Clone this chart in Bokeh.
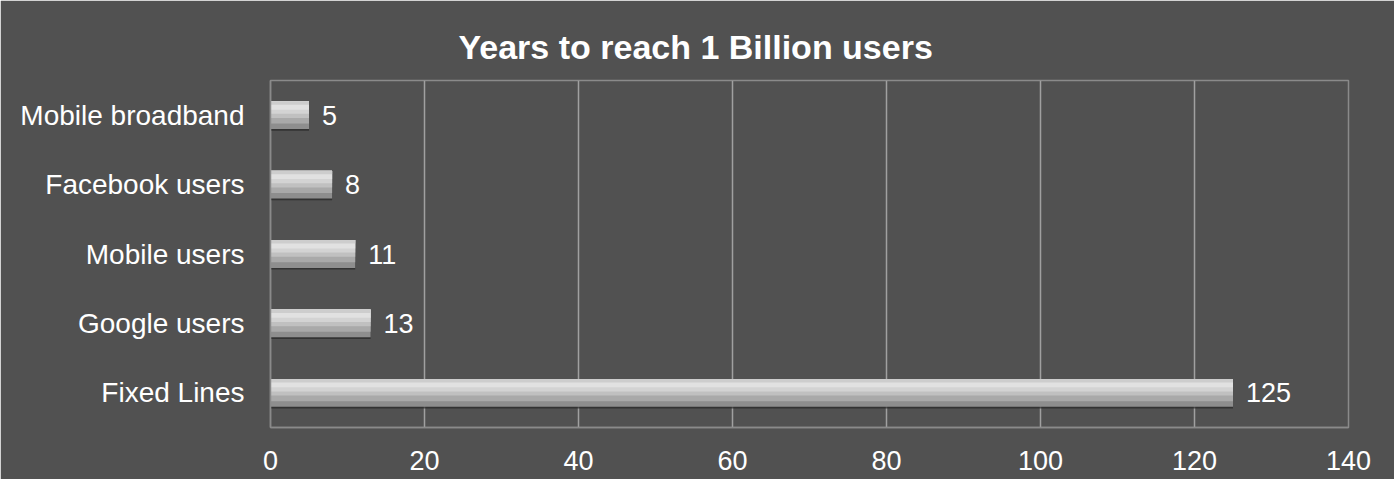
from bokeh.plotting import figure
from bokeh.models import FactorRange, Range1d, ColumnDataSource, LabelSet, Title, FixedTicker
from bokeh.transform import dodge
from bokeh.core.properties import value
from bokeh.embed import file_html
from bokeh.resources import INLINE

categories = ["Fixed Lines", "Google users", "Mobile users", "Facebook users", "Mobile broadband"]
years = [125, 13, 11, 8, 5]
x_ticks = [0, 20, 40, 60, 80, 100, 120, 140]
title_text = "Years to reach 1 Billion users"

BG = "#515151"
FONT = "Liberation Sans"

src = ColumnDataSource(dict(cat=categories, val=years, lab=[str(v) for v in years]))

p = figure(width=1394, height=479, output_backend="svg", toolbar_location=None,
           y_range=FactorRange(factors=categories, range_padding=0),
           x_range=Range1d(0, 140),
           min_border_left=270, min_border_right=46, min_border_top=80, min_border_bottom=52)
p.background_fill_color = BG
p.border_fill_color = BG
p.outline_line_color = "#8a8a8a"
p.outline_line_width = 1.5

t = Title(text=title_text, align="left", offset=188, standoff=30, text_color="white",
          text_font=FONT, text_font_size="34px", text_font_style="bold")
p.add_layout(t, "above")

# bar layers to imitate the gradient
yr = p.y_range
p.hbar(y=dodge("cat", -0.025, range=yr), right="val", left=0, height=0.4, source=src,
       fill_color="#262626", fill_alpha=0.7, line_color=None)
layers = [(0.0, 0.40, "#8e8e8e"), (0.04, 0.32, "#a9a9a9"), (0.08, 0.24, "#c0c0c0"),
          (0.11, 0.18, "#d3d3d3"), (0.14, 0.12, "#e1e1e1"), (0.175, 0.05, "#cdcdcd")]
for off, h, c in layers:
    p.hbar(y=dodge("cat", off, range=yr), right="val", left=0, height=h, source=src,
           fill_color=c, line_color=None)

labels = LabelSet(x="val", y="cat", text="lab", source=src, x_offset=13,
                  text_baseline="middle", text_color="white", text_font=value(FONT),
                  text_font_size=value("27px"))
p.add_layout(labels)

p.xaxis.ticker = FixedTicker(ticks=x_ticks)
p.xgrid.ticker = FixedTicker(ticks=x_ticks)
p.xgrid.grid_line_color = "#a0a0a0"
p.xgrid.grid_line_width = 1.5
p.ygrid.grid_line_color = None

for ax in (p.xaxis, p.yaxis):
    ax.axis_line_color = "#8a8a8a"
    ax.axis_line_width = 1.5
    ax.major_tick_line_color = None
    ax.minor_tick_line_color = None
    ax.major_label_text_color = "white"
    ax.major_label_text_font = FONT
    ax.major_label_text_font_size = "28px"
p.xaxis.major_label_text_font_size = "27px"
p.xaxis.major_label_standoff = 17
p.yaxis.major_label_standoff = 20

open("out.html", "w").write(file_html(p, INLINE))
